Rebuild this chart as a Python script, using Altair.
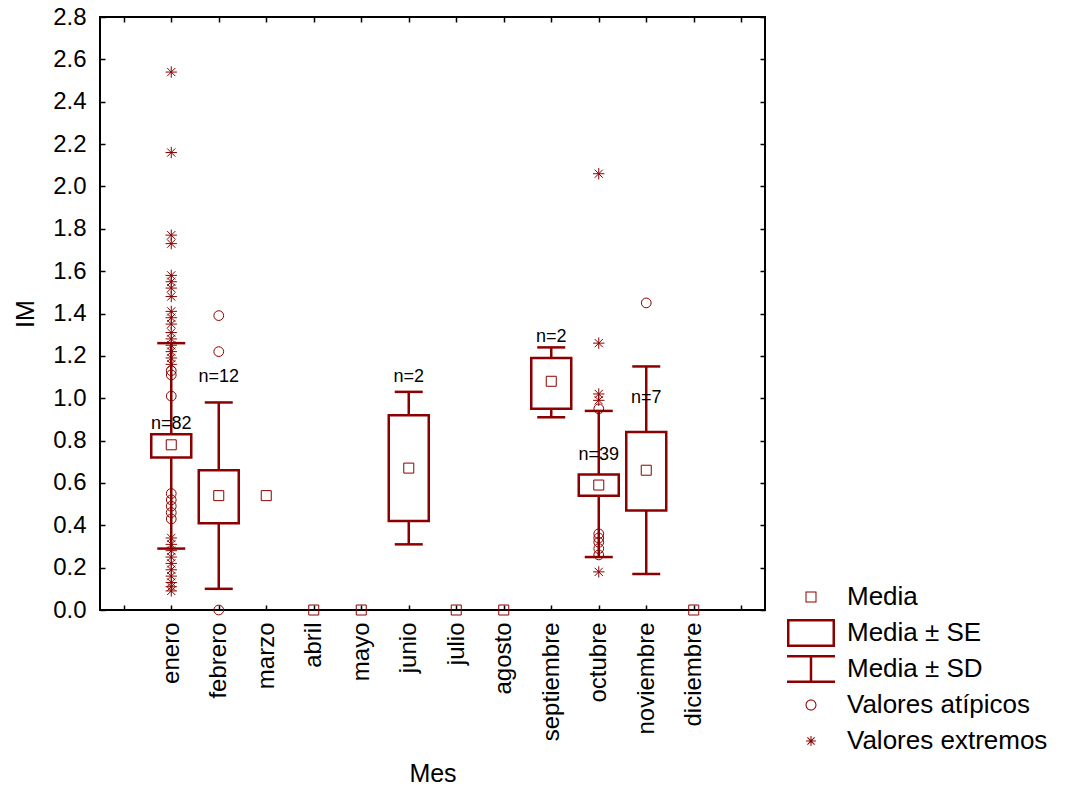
import json
import altair as alt
import pandas as pd

RED = "#8B0000"
FONT = "Liberation Sans"

# ---------------- data ----------------
months = ["enero", "febrero", "marzo", "abril", "mayo", "junio", "julio",
          "agosto", "septiembre", "octubre", "noviembre", "diciembre"]
month_index = [1, 2, 3, 4, 5, 6, 7, 8, 9, 10, 11, 12]
mean_vals = [0.78, 0.54, 0.54, 0.0, 0.0, 0.67, 0.0, 0.0, 1.08, 0.59, 0.66, 0.0]

box_months = [1, 2, 6, 9, 10, 11]
se_low = [0.72, 0.41, 0.42, 0.95, 0.54, 0.47]
se_high = [0.83, 0.66, 0.92, 1.19, 0.64, 0.84]
sd_low = [0.29, 0.10, 0.31, 0.91, 0.25, 0.17]
sd_high = [1.26, 0.98, 1.03, 1.24, 0.94, 1.15]

n_months = [1, 2, 6, 9, 10, 11]
n_text = ["n=82", "n=12", "n=2", "n=2", "n=39", "n=7"]
n_pos = [0.88, 1.10, 1.10, 1.29, 0.73, 1.00]

atipicos_mes = [1, 1, 1, 1, 1, 1, 1, 1,
                2, 2, 2,
                10, 10, 10, 10, 10, 10,
                11]
atipicos_val = [1.13, 1.11, 1.01, 0.55, 0.52, 0.49, 0.46, 0.43,
                1.39, 1.22, 0.0,
                0.95, 0.36, 0.34, 0.32, 0.29, 0.26,
                1.45]

extremos_mes = [1] * 27 + [10] * 5
extremos_val = [2.54, 2.16, 1.77, 1.73, 1.58, 1.55, 1.52, 1.48,
                1.41, 1.38, 1.35, 1.31, 1.28, 1.25, 1.22, 1.19, 1.16,
                0.34, 0.31, 0.28, 0.25, 0.22, 0.19, 0.16, 0.13, 0.11, 0.09,
                2.06, 1.26, 1.02, 0.99, 0.18]

legend_items = ["Media", "Media ± SE", "Media ± SD", "Valores atípicos", "Valores extremos"]
x_ticks = [0, 1, 2, 3, 4, 5, 6, 7, 8, 9, 10, 11, 12, 13]
y_ticks = [0.0, 0.2, 0.4, 0.6, 0.8, 1.0, 1.2, 1.4, 1.6, 1.8, 2.0, 2.2, 2.4, 2.6, 2.8]

# ---------------- tables ----------------
mean_df = pd.DataFrame({"m": month_index, "v": mean_vals})
box_df = pd.DataFrame({"m": box_months, "se_lo": se_low, "se_hi": se_high,
                       "sd_lo": sd_low, "sd_hi": sd_high})
n_df = pd.DataFrame({"m": n_months, "t": n_text, "v": n_pos})
at_df = pd.DataFrame({"m": atipicos_mes, "v": atipicos_val})
ex_df = pd.DataFrame({"m": extremos_mes, "v": extremos_val})
leg_df = pd.DataFrame({"item": legend_items, "m": [20] * 5, "v": [1.0] * 5})

xs = alt.Scale(domain=[-0.5, 13.5], nice=False, zero=False, padding=0)
ys = alt.Scale(domain=[0, 2.8], nice=False, zero=False)


def X(axis=None):
    return alt.X("m:Q", scale=xs, axis=axis)


def Y(field, axis=None):
    return alt.Y(f"{field}:Q", scale=ys, axis=axis)


label_list = [""] + months + [""]
label_expr = json.dumps(label_list) + "[datum.value]"

bottom_axis = alt.Axis(values=x_ticks, labelExpr=label_expr, labelAngle=270,
                       tickSize=5, tickWidth=1.5, tickColor="black", domain=False,
                       offset=-5, grid=False, labelFont=FONT, labelFontSize=24,
                       labelColor="black", labelPadding=12, title="Mes",
                       titleFont=FONT, titleFontSize=25, titleFontWeight="normal",
                       titleColor="black", titlePadding=21)
left_axis = alt.Axis(values=y_ticks, format=".1f", tickSize=5, tickWidth=1.5,
                     tickColor="black", domain=False, offset=-5, grid=False,
                     labelFont=FONT, labelFontSize=24, labelColor="black",
                     labelPadding=14, title="IM", titleFont=FONT, titleFontSize=25,
                     titleFontWeight="normal", titleColor="black", titlePadding=14)
top_axis = alt.Axis(orient="top", values=x_ticks, labels=False, title=None,
                    tickSize=5, tickWidth=1.5, tickColor="black", domain=False,
                    offset=-5, grid=False)
right_axis = alt.Axis(orient="right", values=y_ticks, labels=False, title=None,
                      tickSize=5, tickWidth=1.5, tickColor="black", domain=False,
                      offset=-5, grid=False)

whisker = alt.Chart(box_df).mark_rule(color=RED, strokeWidth=2.5).encode(
    x=X(bottom_axis), y=Y("sd_lo", left_axis), y2="sd_hi:Q")
cap_lo = alt.Chart(box_df).mark_tick(orient="horizontal", size=28, thickness=2.5,
                                     color=RED, opacity=1).encode(x=X(), y=Y("sd_lo"))
cap_hi = alt.Chart(box_df).mark_tick(orient="horizontal", size=28, thickness=2.5,
                                     color=RED, opacity=1).encode(x=X(), y=Y("sd_hi"))
box = alt.Chart(box_df).mark_bar(size=40, fill="white", stroke=RED, strokeWidth=2.5,
                                 opacity=1).encode(x=X(), y=Y("se_lo"), y2="se_hi:Q")
means = alt.Chart(mean_df).mark_point(shape="square", size=100, filled=False,
                                      color=RED, strokeWidth=1, opacity=1).encode(
    x=X(), y=Y("v"))
atip = alt.Chart(at_df).mark_point(shape="circle", size=95, filled=False, color=RED,
                                   strokeWidth=1, opacity=1).encode(x=X(), y=Y("v"))
AST_STROKE = "M-1,0H1M0,-1V1M-0.72,-0.72L0.72,0.72M-0.72,0.72L0.72,-0.72"
extr = alt.Chart(ex_df).mark_point(shape=AST_STROKE, size=130, filled=False, color=RED,
                                   strokeWidth=1, opacity=1).encode(x=X(), y=Y("v"))
ntext = alt.Chart(n_df).mark_text(font=FONT, fontSize=18, color="black",
                                  align="center", baseline="middle").encode(
    x=X(), y=Y("v"), text="t:N")

# legend symbols (filled outline paths, unit = 24 px at size 2304)
P_SQUARE = "M-0.229,-0.229H0.229V0.229H-0.229ZM-0.187,-0.187V0.187H0.187V-0.187Z"
P_BOX = "M-1,-0.583H1V0.583H-1ZM-0.896,-0.479V0.479H0.896V-0.479Z"
P_IBEAM = ("M-1,-0.583H1V-0.479H-1ZM-0.052,-0.479H0.052V0.479H-0.052Z"
           "M-1,0.479H1V0.583H-1Z")
P_CIRCLE = ("M0.229,0A0.229,0.229,0,1,1,-0.229,0A0.229,0.229,0,1,1,0.229,0Z"
            "M0.187,0A0.187,0.187,0,1,0,-0.187,0A0.187,0.187,0,1,0,0.187,0Z")
P_AST = ("M-0.208,-0.021H0.208V0.021H-0.208Z"
         "M-0.021,-0.208H0.021V0.208H-0.021Z"
         "M-0.135,-0.165L0.165,0.135L0.135,0.165L-0.165,-0.135Z"
         "M-0.165,0.135L0.135,-0.165L0.165,-0.135L-0.135,0.165Z")
legend_paths = [P_SQUARE, P_BOX, P_IBEAM, P_CIRCLE, P_AST]

leg = alt.Chart(leg_df).mark_point(filled=True, color=RED, opacity=1, strokeWidth=0,
                                   clip=True).encode(
    x=X(), y=Y("v"),
    shape=alt.Shape("item:N", scale=alt.Scale(domain=legend_items, range=legend_paths),
                    title=None,
                    legend=alt.Legend(orient="none", legendX=687, legendY=562,
                                      labelFont=FONT, labelFontSize=26,
                                      labelColor="black", symbolSize=2304,
                                      symbolStrokeWidth=0, labelOffset=12,
                                      clipHeight=36, rowPadding=0, padding=0,
                                      labelLimit=400)))

frame_ticks = alt.Chart(mean_df).mark_point(opacity=0).encode(
    x=X(top_axis), y=Y("v", right_axis))

chart = alt.layer(whisker, box, cap_lo, cap_hi, means, atip, extr, ntext, leg,
                  frame_ticks).resolve_axis(x="independent", y="independent").properties(
    width=665, height=593,
    padding={"left": 100, "top": 17, "right": 310, "bottom": 179},
    autosize=alt.AutoSizeParams(type="none"),
    background="white",
).configure_view(stroke="black", strokeWidth=2)

chart.save("out.html", embed_options={"renderer": "svg", "actions": False})
